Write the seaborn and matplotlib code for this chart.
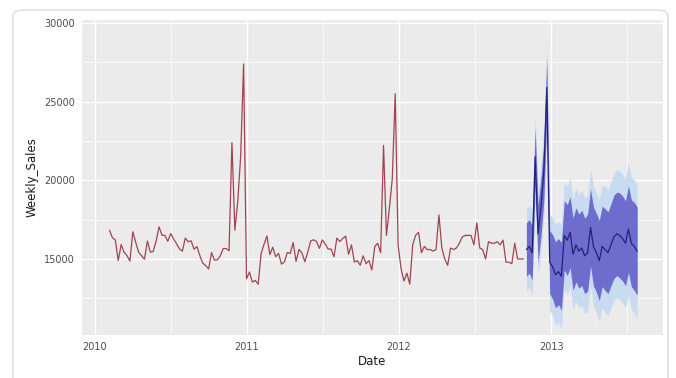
import numpy as np
import pandas as pd
import matplotlib
matplotlib.use("Agg")
import matplotlib.pyplot as plt
import matplotlib.dates as mdates
from matplotlib.patches import FancyBboxPatch
import seaborn as sns

# Observed weekly sales (mean per week), 2010-02-05 .. 2012-10-26
sales_2010 = [16836, 16352, 16216, 14899, 15921, 15426, 15215, 14872, 16730, 16050,
              15435, 15215, 14985, 16141, 15439, 15481, 16139, 17044, 16512, 16503,
              16125, 16616, 16273, 15973, 15643, 15501, 16330, 16102, 16158, 15620,
              15790, 15211, 14737, 14580, 14366, 15409, 14935, 14947, 15201, 15669,
              15664, 15525, 22403, 16833, 18674, 21554, 27398, 13739]
sales_2011 = [14171, 13533, 13642, 13395, 15339, 15928, 16464, 15282, 15749, 15145,
              15364, 14673, 14815, 15421, 15347, 16041, 14850, 15609, 15383, 14826,
              15431, 16150, 16216, 16119, 15676, 16210, 15960, 15632, 15634, 15149,
              16332, 16108, 16309, 16450, 15300, 15900, 14800, 14900, 14600, 15200,
              14700, 14900, 14300, 15800, 16000, 15400, 22220, 16500, 18200, 20100,
              25500, 15900]
sales_2012 = [14400, 13600, 14100, 13400, 15900, 16500, 16700, 15400, 15800, 15600,
              15600, 15500, 15600, 17800, 15700, 15000, 14600, 15700, 15600, 15700,
              16000, 16400, 16500, 16500, 16500, 15900, 17300, 15700, 15600, 15000,
              16100, 16000, 16000, 16100, 15900, 16200, 14800, 14800, 14700, 16000,
              15000, 15000, 15000]

# Forecast 2012-11-02 .. 2013-07-26
fc_mean = [15600, 15800, 15400, 21500, 16600, 18300, 20600, 25900, 14800, 14500,
           14000, 14200, 13900, 16500, 16200, 16700, 15300, 15900, 15500, 15700,
           15200, 15400, 17000, 15800, 15400, 14900, 15800, 15600, 15400, 15900,
           16400, 16600, 16500, 16300, 16000, 16900, 16000, 15800, 15500]
fc_hw80 = [1700, 1700, 1750, 1800, 1800, 1850, 1850, 1900, 2000, 2050,
           2100, 2100, 2150, 2200, 2250, 2250, 2300, 2350, 2350, 2400,
           2400, 2450, 2450, 2500, 2500, 2550, 2550, 2600, 2600, 2600,
           2650, 2650, 2700, 2700, 2700, 2750, 2750, 2800, 2800]
fc_hw95 = [2600, 2600, 2700, 2750, 2750, 2800, 2850, 2700, 3050, 3100,
           3200, 3200, 3300, 3350, 3450, 3450, 3500, 3600, 3600, 3650,
           3650, 3750, 3750, 3800, 3800, 3900, 3900, 4000, 4000, 4000,
           4050, 4050, 4100, 4100, 4100, 4200, 4200, 4250, 4250]

hist = pd.DataFrame({
    "Date": pd.date_range("2010-02-05", periods=len(sales_2010) + len(sales_2011) + len(sales_2012), freq="7D"),
    "Weekly_Sales": sales_2010 + sales_2011 + sales_2012,
})
fc = pd.DataFrame({
    "Date": pd.date_range("2012-11-02", periods=len(fc_mean), freq="7D"),
    "mean": fc_mean,
})
fc["lo80"] = fc["mean"] - np.array(fc_hw80)
fc["hi80"] = fc["mean"] + np.array(fc_hw80)
fc["lo95"] = fc["mean"] - np.array(fc_hw95)
fc["hi95"] = fc["mean"] + np.array(fc_hw95)

sns.set_theme(style="darkgrid", rc={
    "axes.facecolor": "#EBEBEB",
    "grid.color": "white",
    "axes.edgecolor": "#EBEBEB",
})
plt.rcParams["font.family"] = ["DejaVu Sans"]

fig = plt.figure(figsize=(6.76, 3.78), dpi=100)
fig.patches.append(FancyBboxPatch((13 / 676, -0.05), 655 / 676, 1 - 10 / 378 + 0.05,
                                  boxstyle="round,pad=0,rounding_size=0.015",
                                  transform=fig.transFigure, facecolor="white",
                                  edgecolor="#dcdcdc", linewidth=1.0, zorder=-1))
ax = fig.add_axes([82 / 676, 43 / 378, 581 / 676, 315 / 378])

ax.fill_between(fc["Date"], fc["lo95"], fc["hi95"], color="#c9dbf1", linewidth=0, zorder=2)
ax.fill_between(fc["Date"], fc["lo80"], fc["hi80"], color="#6e6ccd", linewidth=0, zorder=3)
sns.lineplot(data=hist, x="Date", y="Weekly_Sales", ax=ax, color="#a2444e",
             linewidth=0.9, errorbar=None, zorder=4)
sns.lineplot(data=fc, x="Date", y="mean", ax=ax, color="#22227a",
             linewidth=0.9, errorbar=None, zorder=5)

ax.set_xlim(pd.Timestamp("2009-12-01"), pd.Timestamp("2013-09-26"))
ax.set_ylim(10170, 30190)
ax.set_yticks([15000, 20000, 25000, 30000])
ax.set_yticks([12500, 17500, 22500, 27500], minor=True)
ax.xaxis.set_major_locator(mdates.YearLocator())
ax.xaxis.set_major_formatter(mdates.DateFormatter("%Y"))
ax.set_xticks([pd.Timestamp(f"{y}-07-02") for y in (2010, 2011, 2012, 2013)], minor=True)
ax.grid(which="major", color="white", linewidth=1.0)
ax.grid(which="minor", color="white", linewidth=0.5)
ax.tick_params(which="major", length=3, width=0.8, color="#333333",
               labelsize=7, labelcolor="#4d4d4d", pad=2)
ax.tick_params(which="minor", length=0)
for s in ax.spines.values():
    s.set_visible(False)

ax.set_xlabel("Date", fontsize=8.5, color="#1a1a1a", labelpad=2)
ax.set_ylabel("Weekly_Sales", fontsize=8.5, color="#1a1a1a", labelpad=4)

fig.savefig("out.png", dpi=100)
